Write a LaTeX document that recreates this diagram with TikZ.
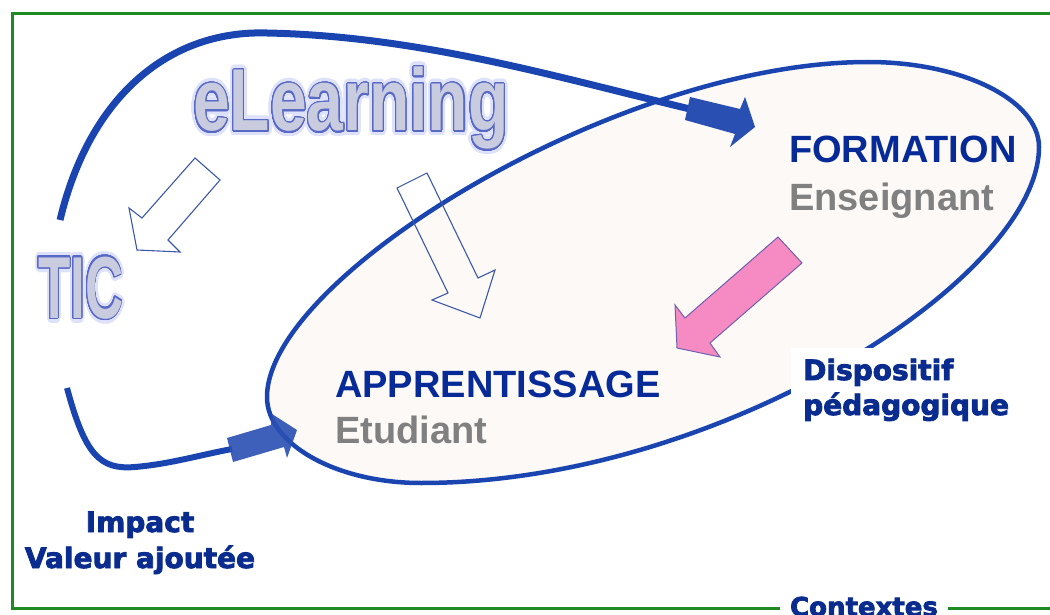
\documentclass[tikz,border=0pt]{standalone}
\usepackage{fontspec}
\setmainfont{Liberation Sans}
\newfontfamily\heavyfont{DejaVu Sans}[BoldFont={DejaVu Sans Bold},BoldFeatures={FakeBold=3}]
\usepackage{contour}
\contournumber{32}
\definecolor{frameg}{HTML}{1E8A24}
\definecolor{lineblue}{HTML}{1A45B0}
\definecolor{arrowblue}{HTML}{2A4FB2}
\definecolor{titleblue}{HTML}{062A98}
\definecolor{labelblue}{HTML}{0A2C8E}
\definecolor{subgray}{HTML}{808080}
\definecolor{eggfill}{HTML}{FCF9F6}
\definecolor{hollow}{HTML}{3C58A8}
\definecolor{pinkfill}{HTML}{F58BC2}
\definecolor{pinkline}{HTML}{7060B0}
\definecolor{outfill}{HTML}{C9CCDF}
\definecolor{outlinec}{HTML}{5868C6}
\definecolor{glowc}{HTML}{DDE1F9}
\newcommand\fancyword[2]{\scalebox{#1}[1]{\rlap{\contourlength{5pt}\color{glowc}\contour{glowc}{#2}}\contourlength{1.4pt}\color{outfill}\contour{outlinec}{#2}}}
\tikzset{
  framel/.style={draw=frameg, line width=3pt},
  egg/.style={draw=lineblue, fill=eggfill, line width=4.5pt},
  curvel/.style={draw=lineblue, line width=7pt},
  blockarrow/.style={fill=arrowblue, draw=none},
  hollowarrow/.style={draw=hollow, line width=1.1pt},
  pinkarrow/.style={fill=pinkfill, draw=pinkline, line width=1pt},
  titletext/.style={font=\fontsize{38}{40}\selectfont\bfseries, text=titleblue, inner sep=0pt, anchor=base west},
  subtext/.style={font=\fontsize{38}{40}\selectfont\bfseries, text=subgray, inner sep=0pt, anchor=base west},
  heavytext/.style={font=\heavyfont\bfseries\fontsize{28}{30}\selectfont, text=labelblue, inner sep=0pt},
  fancytext/.style={font=\fontsize{88}{88}\selectfont\bfseries, inner sep=0pt, anchor=base west}
}
\begin{document}
\begin{tikzpicture}[x=1pt,y=-1pt]
\useasboundingbox (0,0) rectangle (1050,615);
% frame
\draw[framel] (1050,14) -- (12,14) -- (12,608) -- (1050,608);
\node[heavytext, fill=white, minimum width=168pt, inner ysep=2pt, anchor=base, font=\heavyfont\bfseries\fontsize{26}{28}\selectfont] (ctx) at (864,616) {Contextes};
% egg shaped ellipse
\coordinate (eL) at (267,397);
\coordinate (eT) at (868,62);
\coordinate (eR) at (1039,147);
\coordinate (eB) at (421,483);
\draw[egg] (eL) .. controls (267,277) and (618,62) .. (eT)
  .. controls (962,62) and (1039,100) .. (eR)
  .. controls (1039,277) and (721,483) .. (eB)
  .. controls (336,483) and (267,444) .. (eL) -- cycle;
% top curve
\coordinate (tstart) at (60,220);
\coordinate (ttop) at (267,33);
\coordinate (tend) at (690,109);
\draw[curvel] (tstart) .. controls (90,95) and (170,30) .. (ttop) .. controls (420,36) and (560,78) .. (tend);
\fill[blockarrow] (690,97) -- (740,109) -- (745,97) -- (755,127) -- (730,147) -- (735,134) -- (685,120) -- cycle;
% bottom curve
\coordinate (bstart) at (67,388);
\coordinate (bmid) at (135,467);
\coordinate (bend) at (232,449);
\draw[curvel, line width=6pt] (bstart) .. controls (85,455) and (100,470) .. (bmid) .. controls (170,464) and (200,455) .. (bend);
\fill[blockarrow, opacity=0.9] (227,438) -- (271,425) -- (272,414) -- (297,430) -- (287,458) -- (284,447) -- (233,462) -- cycle;
% hollow arrows
\draw[hollowarrow] (195,158) -- (220,180) -- (168,240) -- (180,252) -- (137,250) -- (129,208) -- (142,218) -- cycle;
\draw[hollowarrow] (397,188) -- (427,173) -- (478,278) -- (495,270) -- (480,318) -- (432,300) -- (448,293) -- cycle;
% pink arrow
\draw[pinkarrow] (778,237) -- (802,263) -- (710,343) -- (720,357) -- (677,348) -- (675,305) -- (685,318) -- cycle;
% fancy words
\node[fancytext] (elearn) at (193,131) {\fancyword{0.75}{eLearning}};
\node[fancytext] (tic) at (38,318) {\fancyword{0.6}{TIC}};
% titles
\node[titletext] (form) at (789,163) {FORMATION};
\node[subtext] (ens) at (789,210) {Enseignant};
\node[titletext] (app) at (335,397) {APPRENTISSAGE};
\node[subtext] (etu) at (335,443) {Etudiant};
% dispositif label
\fill[white] (791,348) rectangle (1014,428);
\node[heavytext, anchor=base west] (disp1) at (803,380) {Dispositif};
\node[heavytext, anchor=base west] (disp2) at (803,415) {pédagogique};
% impact label
\node[heavytext, anchor=base] (imp1) at (140,532) {Impact};
\node[heavytext, anchor=base] (imp2) at (140,568) {Valeur ajoutée};
\end{tikzpicture}
\end{document}
